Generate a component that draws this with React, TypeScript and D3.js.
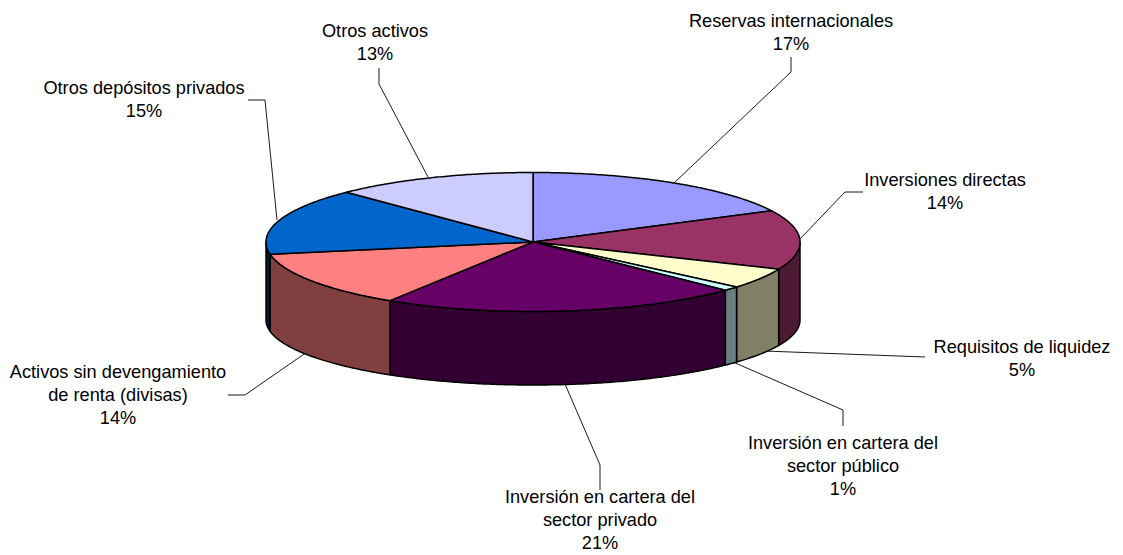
import React from "react";
import * as d3 from "d3";

const categories = [
  "Reservas internacionales",
  "Inversiones directas",
  "Requisitos de liquidez",
  "Inversión en cartera del sector público",
  "Inversión en cartera del sector privado",
  "Activos sin devengamiento de renta (divisas)",
  "Otros depósitos privados",
  "Otros activos",
];
const sliceShares = [17.6, 13.8, 4.8, 1.0, 21.8, 13.2, 15.5, 12.3];
const percentLabels = ["17%", "14%", "5%", "1%", "21%", "14%", "15%", "13%"];
const topColors = ["#9999FF", "#993366", "#FFFFCC", "#CCFFFF", "#660066", "#FF8080", "#0066CC", "#CCCCFF"];
const sideColors = ["#4D4D80", "#4D1A33", "#808066", "#668080", "#330033", "#804040", "#001A33", "#666680"];

const labelLines = [
  ["Reservas internacionales"],
  ["Inversiones directas"],
  ["Requisitos de liquidez"],
  ["Inversión en cartera del", "sector público"],
  ["Inversión en cartera del", "sector privado"],
  ["Activos sin devengamiento", "de renta (divisas)"],
  ["Otros depósitos privados"],
  ["Otros activos"],
];
const labelAnchors: [number, number][] = [
  [791, 27], [945, 186], [1022, 353], [843, 449], [600, 503], [118, 378], [144, 94], [375, 37],
];
const leaders: [number, number][][] = [
  [[791, 57], [791, 72], [674, 183]],
  [[800, 239], [845, 192], [863, 192]],
  [[764, 351], [925, 357]],
  [[733, 362], [843, 410], [843, 426]],
  [[565, 384], [600, 465], [600, 490]],
  [[307, 352], [245, 395], [228, 395]],
  [[277, 220], [265, 100], [248, 100]],
  [[428, 177], [379, 84], [379, 68]],
];

const W = 1123, H = 555;
const cx = 533, cy = 242, rx = 267, ry = 69.5;
const bottomCy = 320, bottomRy = 65;

const topPt = (a: number): [number, number] => [cx + rx * Math.sin(a), cy - ry * Math.cos(a)];
const botPt = (a: number): [number, number] => [cx + rx * Math.sin(a), bottomCy - bottomRy * Math.cos(a)];
const line = d3.line();

function arcPts(a0: number, a1: number, f: (a: number) => [number, number]) {
  const n = Math.max(2, Math.ceil(Math.abs(a1 - a0) / 0.01));
  return d3.range(n + 1).map((i) => f(a0 + ((a1 - a0) * i) / n));
}

export default function App() {
  const arcs = d3.pie<number>().sort(null).value((d) => d)(sliceShares);
  const front0 = Math.PI / 2;
  const front1 = (3 * Math.PI) / 2;
  const sides = arcs
    .map((s, i) => ({ a0: Math.max(s.startAngle, front0), a1: Math.min(s.endAngle, front1), i }))
    .filter((s) => s.a1 > s.a0);
  return (
    <svg
      width={W}
      height={H}
      viewBox={`0 0 ${W} ${H}`}
      style={{ position: "absolute", left: 0, top: 0, background: "#fff" }}
      fontFamily="'Liberation Sans', Arial, sans-serif"
      fontSize={18.2}
    >
      {leaders.map((pts, i) => (
        <path key={i} d={line(pts) ?? ""} fill="none" stroke="#000" strokeWidth={0.9} />
      ))}
      {sides.map((s) => (
        <path
          key={categories[s.i] + "-side"}
          d={(line([...arcPts(s.a0, s.a1, topPt), ...arcPts(s.a1, s.a0, botPt)]) ?? "") + "Z"}
          fill={sideColors[s.i]}
          stroke="#000"
          strokeWidth={1.5}
          strokeLinejoin="round"
        />
      ))}
      {arcs.map((s, i) => (
        <path
          key={categories[i]}
          d={(line([[cx, cy], ...arcPts(s.startAngle, s.endAngle, topPt)]) ?? "") + "Z"}
          fill={topColors[i]}
          stroke="#000"
          strokeWidth={1.5}
          strokeLinejoin="round"
        />
      ))}
      {labelLines.map((lines, i) => (
        <text key={i} x={labelAnchors[i][0]} y={labelAnchors[i][1]} textAnchor="middle" fill="#000">
          {[...lines, percentLabels[i]].map((t, j) => (
            <tspan key={j} x={labelAnchors[i][0]} dy={j === 0 ? 0 : 23}>
              {t}
            </tspan>
          ))}
        </text>
      ))}
    </svg>
  );
}
